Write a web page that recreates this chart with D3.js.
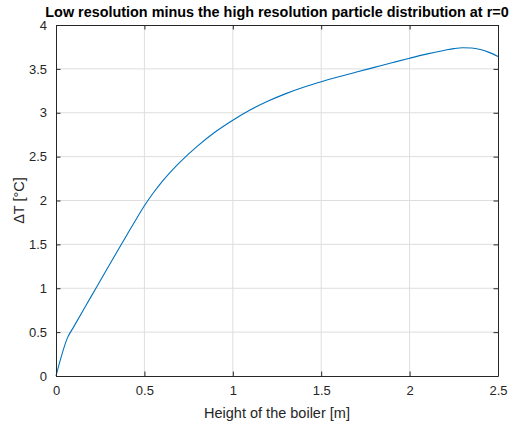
<!DOCTYPE html>
<html>
<head>
<meta charset="utf-8">
<script src="https://cdn.jsdelivr.net/npm/d3@7"></script>
<style>
  body { margin: 0; background: #fff; }
  text { font-family: "Liberation Sans", Arial, sans-serif; fill: #262626; }
</style>
</head>
<body>
<svg width="519" height="425"></svg>
<script>
// height along the boiler [m]
var heights = [0, 0.066, 0.1, 0.2, 0.3, 0.4, 0.45, 0.5, 0.55, 0.6, 0.7, 0.8, 0.9, 1.0, 1.1, 1.2, 1.3, 1.4, 1.5,
  1.6, 1.7, 1.8, 1.9, 2.0, 2.1, 2.2, 2.25, 2.3, 2.35, 2.4, 2.45, 2.5];
// temperature difference [°C]
var deltaT = [0, 0.44, 0.56, 0.91, 1.26, 1.605, 1.775, 1.94, 2.085, 2.215, 2.435, 2.62, 2.78, 2.915, 3.033, 3.133, 3.218, 3.29, 3.353,
  3.41, 3.464, 3.517, 3.57, 3.622, 3.671, 3.713, 3.731, 3.741, 3.738, 3.72, 3.688, 3.642];

var xTicks = [0, 0.5, 1, 1.5, 2, 2.5];
var yTicks = [0, 0.5, 1, 1.5, 2, 2.5, 3, 3.5, 4];

var svg = d3.select("svg"),
    margin = {top: 25, right: 21, bottom: 49, left: 56},
    width = +svg.attr("width") - margin.left - margin.right,
    height = +svg.attr("height") - margin.top - margin.bottom;

var x = d3.scaleLinear().domain([0, 2.5]).range([0, width]);
var y = d3.scaleLinear().domain([0, 4]).range([height, 0]);

var g = svg.append("g").attr("transform", "translate(" + margin.left + "," + margin.top + ")");

// grid
g.append("g").selectAll("line").data(xTicks.slice(1, -1)).enter().append("line")
    .attr("x1", d => x(d)).attr("x2", d => x(d))
    .attr("y1", 0).attr("y2", height)
    .style("stroke", "#dedede").style("stroke-width", 1);
g.append("g").selectAll("line").data(yTicks.slice(1, -1)).enter().append("line")
    .attr("y1", d => y(d)).attr("y2", d => y(d))
    .attr("x1", 0).attr("x2", width)
    .style("stroke", "#dedede").style("stroke-width", 1);

// curve
var points = heights.map((h, i) => [h, deltaT[i]]);
g.append("path")
    .datum(points)
    .attr("d", d3.line().x(d => x(d[0])).y(d => y(d[1])).curve(d3.curveMonotoneX))
    .style("fill", "none")
    .style("stroke", "#0072bd")
    .style("stroke-width", 1.1);

// axes, ticks point inward
function styleAxis(sel) {
  sel.select(".domain").style("stroke", "#262626");
  sel.selectAll(".tick line").style("stroke", "#262626");
  sel.selectAll("text").style("font-size", "13px").style("fill", "#262626")
     .style("font-family", "'Liberation Sans', Arial, sans-serif");
}

g.append("g").attr("transform", "translate(0," + height + ")")
    .call(d3.axisBottom(x).tickValues(xTicks).tickFormat(d3.format("")).tickSizeInner(-4.5).tickSizeOuter(0).tickPadding(10))
    .call(styleAxis);
g.append("g")
    .call(d3.axisTop(x).tickValues(xTicks).tickFormat("").tickSizeInner(-4.5).tickSizeOuter(0))
    .call(styleAxis);
g.append("g")
    .call(d3.axisLeft(y).tickValues(yTicks).tickFormat(d3.format("")).tickSizeInner(-4.5).tickSizeOuter(0).tickPadding(9))
    .call(styleAxis);
g.append("g").attr("transform", "translate(" + width + ",0)")
    .call(d3.axisRight(y).tickValues(yTicks).tickFormat("").tickSizeInner(-4.5).tickSizeOuter(0))
    .call(styleAxis);

// labels
svg.append("text")
    .attr("x", margin.left + width / 2).attr("y", 17)
    .attr("text-anchor", "middle")
    .style("font-size", "14.4px").style("font-weight", "bold").style("fill", "#000")
    .text("Low resolution minus the high resolution particle distribution at r=0");

svg.append("text")
    .attr("x", margin.left + width / 2).attr("y", 418)
    .attr("text-anchor", "middle")
    .style("font-size", "14.5px")
    .text("Height of the boiler [m]");

svg.append("text")
    .attr("transform", "translate(24," + (margin.top + height / 2) + ") rotate(-90)")
    .attr("text-anchor", "middle")
    .style("font-size", "14.5px")
    .text("ΔT [°C]");
</script>
</body>
</html>
